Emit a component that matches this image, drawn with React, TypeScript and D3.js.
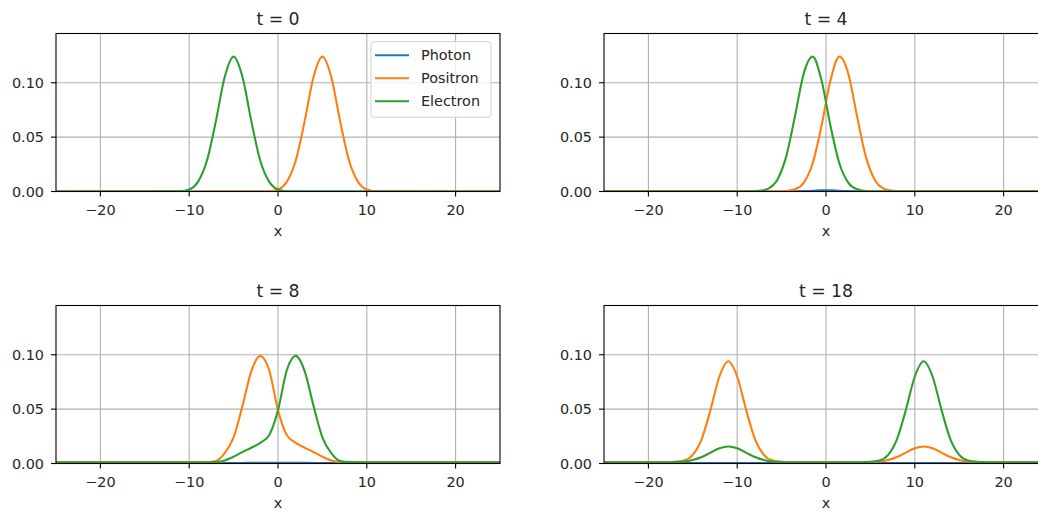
import React from 'react'
import * as d3 from 'd3'

// sample positions (x) and densities for every snapshot
const gridT0 = [-25, -11, -10, -9, -8, -7, -6, -5, -4, -3, -2, -1, 0, 1, 2, 3, 4, 5, 6, 7, 8, 9, 10, 11, 25]
const photonX0 = [-25, 25]
const photonT0 = [0, 0]
const positronT0 = [0, 0, 0, 0, 0, 0, 0, 0, 0, 0, 0, 0.0001, 0.0018, 0.0091, 0.0285, 0.0645, 0.1053, 0.124, 0.1053, 0.0645, 0.0285, 0.0091, 0.0018, 0.0001, 0]
const electronT0 = [0, 0.0001, 0.0018, 0.0091, 0.0285, 0.0645, 0.1053, 0.124, 0.1053, 0.0645, 0.0285, 0.0091, 0.0018, 0.0001, 0, 0, 0, 0, 0, 0, 0, 0, 0, 0, 0]

const gridT4 = [-25, -8.5, -7.5, -6.5, -5.5, -4.5, -3.5, -2.5, -1.5, -0.5, 0.5, 1.5, 2.5, 3.5, 4.5, 5.5, 6.5, 7.5, 8.5, 25]
const photonT4 = [0, 0, 0, 0, 0, 0, 0.0001, 0.0003, 0.0007, 0.0012, 0.0012, 0.0007, 0.0003, 0.0001, 0, 0, 0, 0, 0, 0]
const positronT4 = [0.0002, 0.0002, 0.0002, 0.0002, 0.0002, 0.0005, 0.002, 0.0082, 0.026, 0.0606, 0.102, 0.124, 0.1088, 0.069, 0.0316, 0.0106, 0.0027, 0.0006, 0.0002, 0.0002]
const electronT4 = [0.0002, 0.0002, 0.0006, 0.0027, 0.0106, 0.0316, 0.069, 0.1088, 0.124, 0.102, 0.0606, 0.026, 0.0082, 0.002, 0.0005, 0.0002, 0.0002, 0.0002, 0.0002, 0.0002]

const gridT8 = [-25, -9, -8, -7, -6, -5, -4, -3, -2, -1, 0, 1, 2, 3, 4, 5, 6, 7, 8, 9, 25]
const photonT8 = [0, 0, 0.0001, 0.0002, 0.0003, 0.0004, 0.0005, 0.0006, 0.0007, 0.0007, 0.0007, 0.0007, 0.0007, 0.0006, 0.0005, 0.0004, 0.0003, 0.0002, 0.0001, 0, 0]
const positronT8 = [0.0012, 0.0012, 0.0013, 0.0022, 0.0095, 0.024, 0.053, 0.085, 0.099, 0.086, 0.049, 0.026, 0.019, 0.0145, 0.0106, 0.0062, 0.0028, 0.0014, 0.0012, 0.0012, 0.0012]
const electronT8 = [0.0012, 0.0012, 0.0012, 0.0014, 0.0028, 0.0062, 0.0106, 0.0145, 0.019, 0.026, 0.049, 0.086, 0.099, 0.085, 0.053, 0.024, 0.0095, 0.0022, 0.0013, 0.0012, 0.0012]

const gridT18 = [-25, -18, -17, -16, -15, -14, -13, -12, -11, -10, -9, -8, -7, -6, -5, -4, -3, -2, -1, 0, 1, 2, 3, 4, 5, 6, 7, 8, 9, 10, 11, 12, 13, 14, 15, 16, 17, 18, 25]
const photonX18 = [-25, -18, -11, 0, 11, 18, 25]
const photonT18 = [0.0003, 0.0004, 0.0005, 0.0005, 0.0005, 0.0004, 0.0003]
const positronT18 = [0.0012, 0.0012, 0.0015, 0.0027, 0.008, 0.0225, 0.0495, 0.08, 0.094, 0.08, 0.0495, 0.0225, 0.008, 0.0027, 0.0015, 0.0012, 0.0012, 0.0012, 0.0012, 0.0012, 0.0012, 0.0012, 0.0012, 0.0012, 0.0014, 0.0018, 0.0032, 0.0059, 0.01, 0.014, 0.0157, 0.014, 0.01, 0.0059, 0.0032, 0.0018, 0.0014, 0.0012, 0.0012]
const electronT18 = [0.0012, 0.0012, 0.0014, 0.0018, 0.0032, 0.0059, 0.01, 0.014, 0.0157, 0.014, 0.01, 0.0059, 0.0032, 0.0018, 0.0014, 0.0012, 0.0012, 0.0012, 0.0012, 0.0012, 0.0012, 0.0012, 0.0012, 0.0012, 0.0015, 0.0027, 0.008, 0.0225, 0.0495, 0.08, 0.094, 0.08, 0.0495, 0.0225, 0.008, 0.0027, 0.0015, 0.0012, 0.0012]

const titles = ['t = 0', 't = 4', 't = 8', 't = 18']
const seriesNames = ['Photon', 'Positron', 'Electron']
const xTicks = [-20, -10, 0, 10, 20]
const yTicks = [0, 0.05, 0.1]

const colors = ['#1f77b4', '#ff7f0e', '#2ca02c']

type Pt = [number, number]
const zip = (xs: number[], ys: number[]): Pt[] => xs.map((v, i) => [v, ys[i]])

const panels = [
  { title: titles[0], series: [zip(photonX0, photonT0), zip(gridT0, positronT0), zip(gridT0, electronT0)] },
  { title: titles[1], series: [zip(gridT4, photonT4), zip(gridT4, positronT4), zip(gridT4, electronT4)] },
  { title: titles[2], series: [zip(gridT8, photonT8), zip(gridT8, positronT8), zip(gridT8, electronT8)] },
  { title: titles[3], series: [zip(photonX18, photonT18), zip(gridT18, positronT18), zip(gridT18, electronT18)] },
]

const W = 1038
const H = 514
const plotW = 444
const plotH = 158
const cols = [56, 604]
const rows = [33.5, 305.5]
const font = 'DejaVu Sans, sans-serif'
const tickSize = 14.4
const titleSize = 17.3
const textColor = '#262626'

const x = d3.scaleLinear().domain([-25, 25]).range([0, plotW])
const y = d3.scaleLinear().domain([0, 0.1453]).range([plotH, 0])
const line = d3.line<Pt>().x((d) => x(d[0])).y((d) => y(d[1])).curve(d3.curveMonotoneX)
const fmtX = d3.format('d')
const fmtY = d3.format('.2f')

const Panel = ({ panel, left, top, idx, legend }: { panel: typeof panels[0], left: number, top: number, idx: number, legend: boolean }) => (
  <g transform={`translate(${left},${top})`} fontFamily={font}>
    <defs>
      <clipPath id={`clip${idx}`}>
        <rect x={0} y={0} width={plotW} height={plotH} />
      </clipPath>
    </defs>
    <rect x={0} y={0} width={plotW} height={plotH} fill="#fff" />
    {xTicks.map((t) => (
      <line key={`gx${t}`} x1={x(t)} x2={x(t)} y1={0} y2={plotH} stroke="#b0b0b0" strokeWidth={1.1} />
    ))}
    {yTicks.map((t) => (
      <line key={`gy${t}`} x1={0} x2={plotW} y1={y(t)} y2={y(t)} stroke="#b0b0b0" strokeWidth={1.1} />
    ))}
    <g clipPath={`url(#clip${idx})`}>
      {panel.series.map((s, i) => (
        <path key={i} d={line(s) || ''} fill="none" stroke={colors[i]} strokeWidth={2.1} strokeLinejoin="round" />
      ))}
    </g>
    <rect x={0} y={0} width={plotW} height={plotH} fill="none" stroke="#000" strokeWidth={1.1} />
    {xTicks.map((t) => (
      <g key={`tx${t}`}>
        <line x1={x(t)} x2={x(t)} y1={plotH} y2={plotH + 5} stroke="#000" strokeWidth={1.1} />
        <text x={x(t)} y={plotH + 23} fontSize={tickSize} textAnchor="middle" fill={textColor}>{fmtX(t)}</text>
      </g>
    ))}
    {yTicks.map((t) => (
      <g key={`ty${t}`}>
        <line x1={-5} x2={0} y1={y(t)} y2={y(t)} stroke="#000" strokeWidth={1.1} />
        <text x={-12} y={y(t)} dy="0.36em" fontSize={tickSize} textAnchor="end" fill={textColor}>{fmtY(t)}</text>
      </g>
    ))}
    <text x={plotW / 2} y={plotH + 44.5} fontSize={tickSize} textAnchor="middle" fill={textColor}>x</text>
    <text x={plotW / 2} y={-8.6} fontSize={titleSize} textAnchor="middle" fill={textColor}>{panel.title}</text>
    {legend && (
      <g transform={`translate(${plotW - 129},8.2)`}>
        <rect x={0} y={0} width={120} height={75.6} rx={3} fill="#fff" fillOpacity={0.8} stroke="#d0d0d0" strokeWidth={1} />
        {seriesNames.map((n, i) => (
          <g key={n} transform={`translate(0,${13.5 + i * 23})`}>
            <line x1={4} x2={38} y1={0} y2={0} stroke={colors[i]} strokeWidth={2.1} />
            <text x={50} y={0} dy="0.36em" fontSize={tickSize} fill={textColor}>{n}</text>
          </g>
        ))}
      </g>
    )}
  </g>
)

const App = () => (
  <svg width={W} height={H} style={{ position: 'absolute', left: 0, top: 0, display: 'block', background: '#fff' }}>
    {panels.map((p, i) => (
      <Panel key={i} panel={p} idx={i} left={cols[i % 2]} top={rows[Math.floor(i / 2)]} legend={i === 0} />
    ))}
  </svg>
)

export default App
